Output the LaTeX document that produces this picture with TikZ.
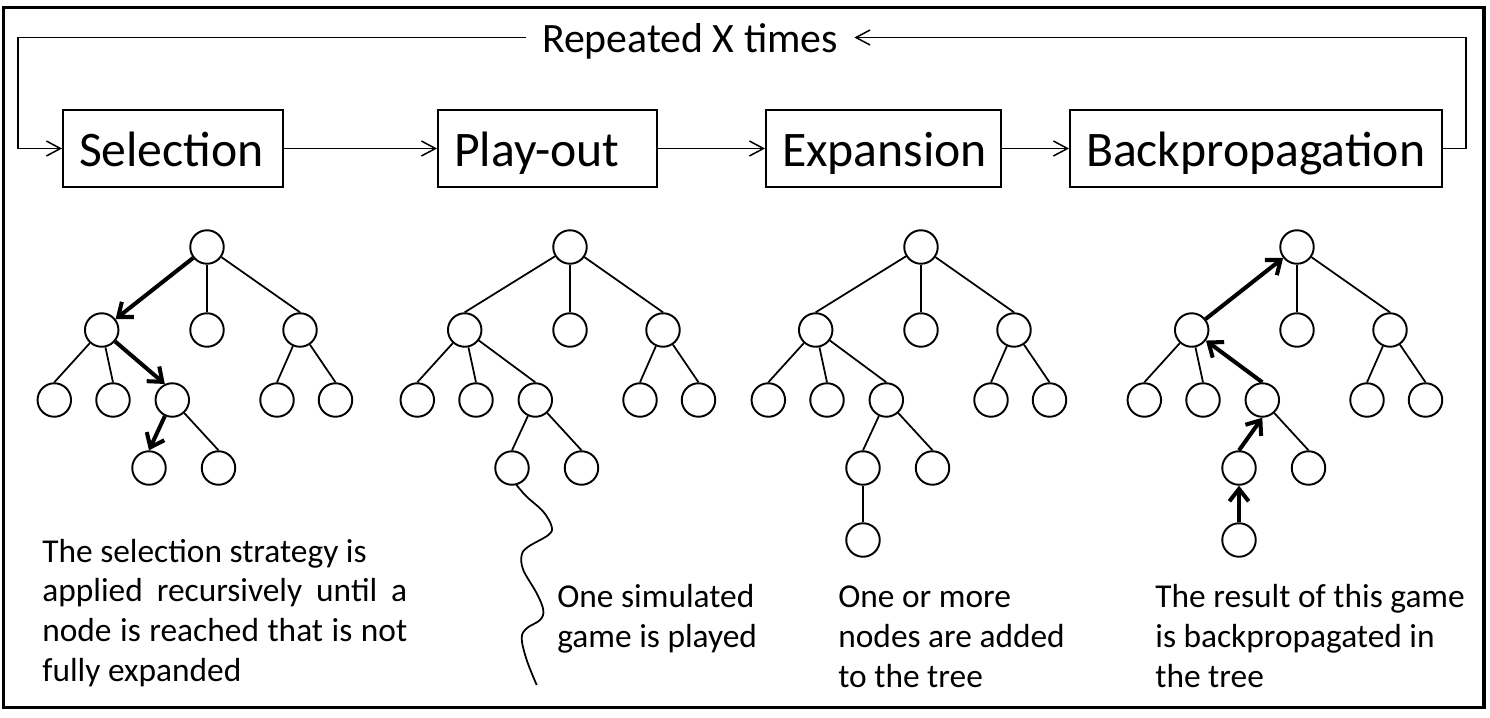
\documentclass[tikz,border=0pt]{standalone}
\usepackage{fontspec}
\setmainfont{Carlito}
\usetikzlibrary{arrows.meta}

\tikzset{
  stage/.style={draw, line width=1.1pt, minimum height=1.54cm, inner xsep=0.32cm, inner ysep=0pt,
    text height=0.72cm, text depth=0pt, align=left, font=\fontsize{28.3}{34}\selectfont},
  tn/.style={draw, circle, line width=1.1pt, minimum size=0.67cm, inner sep=0pt},
  lnk/.style={line width=1pt},
  walk/.style={line width=2.3pt, -{Straight Barb[length=7pt,width=11pt]}},
  flow/.style={line width=0.85pt, -{Straight Barb[length=8pt,width=8.5pt]}},
  note/.style={anchor=base west, inner sep=0pt, align=left, font=\fontsize{19}{22.5}\selectfont},
}

\begin{document}
\begin{tikzpicture}[x=0.02cm, y=0.02cm]
    \useasboundingbox (0,0) rectangle (1490,-717);
    \draw[line width=1.9pt] (3.5,-7.5) rectangle (1484,-707.5);
    % Fasi
    \node[stage, text width=3.76cm] (sel) at (173,-148.5) {Selection};
    \node[stage, text width=3.74cm] (play) at (547.5,-148.5) {Play-out};
    \node[stage, text width=4.06cm] (exp) at (883.5,-148.5) {Expansion};
    \node[stage, text width=6.8cm] (back) at (1256,-148.5) {Backpropagation};
    \draw[flow] (sel.east) -- (play.west);
    \draw[flow] (play.east) -- (exp.west);
    \draw[flow] (exp.east) -- (back.west);
    % Ciclo
    \node[anchor=base, inner xsep=0.32cm, font=\fontsize{23.8}{28}\selectfont] (rep) at (690,-52) {Repeated X times};
    \coordinate (lpl) at (18,-37.5);
    \coordinate (lpr) at (1466,-37.5);
    \draw[flow] (back.east) -| (lpr) -- (lpr -| rep.east);
    \draw[flow] (lpl -| rep.west) -- (lpl) |- (sel.west);
    % Alberi
    \foreach \t/\dx in {s/0, p/363, e/714, b/1090} {
        \begin{scope}[shift={(\dx,0)}]
            \node[tn] (\t-top) at (207,-247) {};
            \node[tn] (\t-l) at (101.7,-330) {};
            \node[tn] (\t-m) at (207,-330) {};
            \node[tn] (\t-r) at (300,-330) {};
            \node[tn] (\t-ll) at (54.3,-400) {};
            \node[tn] (\t-lm) at (113,-400) {};
            \node[tn] (\t-lr) at (172.3,-400) {};
            \node[tn] (\t-rl) at (277,-400) {};
            \node[tn] (\t-rr) at (335.5,-400) {};
            \node[tn] (\t-a) at (149,-468) {};
            \node[tn] (\t-b) at (218.5,-468) {};
        \end{scope}
        \draw[lnk] (\t-top) -- (\t-m.north);
        \draw[lnk] (\t-top) -- (\t-r.north);
        \draw[lnk] (\t-l) -- (\t-ll.north);
        \draw[lnk] (\t-l) -- (\t-lm.north);
        \draw[lnk] (\t-r) -- (\t-rl.north);
        \draw[lnk] (\t-r) -- (\t-rr.north);
        \draw[lnk] (\t-lr) -- (\t-b.north);
    }
    % Selection
    \draw[walk] (s-top) -- (s-l);
    \draw[walk] (s-l) -- (s-lr.115);
    \draw[walk] (s-lr) -- (s-a.north);
    % Play-out
    \draw[lnk] (p-top) -- (p-l.north);
    \draw[lnk] (p-l) -- (p-lr.north);
    \draw[lnk] (p-lr) -- (p-a.north);
    \draw[lnk] plot[smooth, tension=0.6] coordinates {(p-a.-75) (526.7,-496.7) (543.3,-511.7) (551.7,-526.7)
        (548.3,-535) (528.3,-546.7) (521.7,-555) (523.3,-570) (536.7,-593.3) (543.3,-610) (540,-620)
        (526.7,-628.3) (521.7,-638.3) (526.7,-660) (536.7,-685)};
    % Expansion
    \node[tn] (e-c) at (863,-540) {};
    \draw[lnk] (e-top) -- (e-l.north);
    \draw[lnk] (e-l) -- (e-lr.north);
    \draw[lnk] (e-lr) -- (e-a.north);
    \draw[lnk] (e-a) -- (e-c);
    % Backpropagation
    \node[tn] (b-c) at (1239,-540) {};
    \draw[walk] (b-l) -- (b-top);
    \draw[walk] (b-lr.north) -- (b-l);
    \draw[walk] (b-a.north) -- (b-lr.south);
    \draw[walk] (b-c) -- (b-a);
    % Testi (ancorati all'ultima riga)
    \node[note] (seltxt) at (42,-681) {The selection strategy is\\
        \makebox[7.3cm][s]{applied recursively until a}\\
        \makebox[7.3cm][s]{node is reached that is not}\\
        fully expanded};
    \node[note] (playtxt) at (557,-647) {One simulated\\game is played};
    \node[note] (exptxt) at (838,-687) {One or more\\nodes are added\\to the tree};
    \node[note] (backtxt) at (1155,-687) {The result of this game\\is backpropagated in\\the tree};
\end{tikzpicture}
\end{document}
